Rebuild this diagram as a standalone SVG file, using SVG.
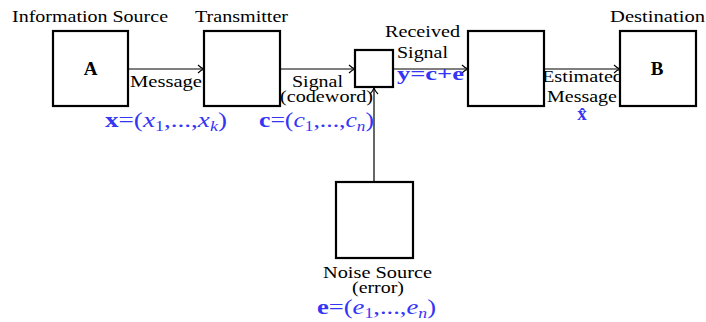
<svg xmlns="http://www.w3.org/2000/svg" width="706" height="322" viewBox="0 0 706 322">
<style>
.box{fill:#fff;stroke:#000;stroke-width:2.2}
.lbl{font-family:"Liberation Serif",serif;font-size:17px;fill:#000;text-anchor:middle}
.b{font-weight:bold}
.m{font-family:"Liberation Serif",serif;font-size:21px;fill:#3535f5}
.i{font-style:italic}
.s{font-size:14px}
.conn{stroke:#000;stroke-width:1.2;fill:none}
</style>
<defs>
<marker id="ah" markerWidth="10" markerHeight="10" refX="8" refY="5" orient="auto" markerUnits="userSpaceOnUse">
<path d="M2,1 Q5,4 8,5 Q5,6 2,9" fill="none" stroke="#000" stroke-width="1.1"/>
</marker>
</defs>
<rect width="706" height="322" fill="#fff"/>
<g id="connectors">
<line class="conn" x1="128" y1="69" x2="204" y2="69" marker-end="url(#ah)"/>
<line class="conn" x1="280" y1="69" x2="355" y2="69" marker-end="url(#ah)"/>
<line class="conn" x1="393" y1="69" x2="468" y2="69" marker-end="url(#ah)"/>
<line class="conn" x1="544" y1="69" x2="620" y2="69" marker-end="url(#ah)"/>
<line class="conn" x1="374" y1="182" x2="374" y2="88" marker-end="url(#ah)"/>
<text class="lbl" x="166" y="87" textLength="72" lengthAdjust="spacingAndGlyphs">Message</text>
<text class="lbl" x="317.5" y="87" textLength="51" lengthAdjust="spacingAndGlyphs">Signal</text>
<text class="lbl" x="326.5" y="102" textLength="93" lengthAdjust="spacingAndGlyphs">(codeword)</text>
<text class="lbl" x="422.5" y="37" textLength="75" lengthAdjust="spacingAndGlyphs">Received</text>
<text class="lbl" x="422.5" y="58" textLength="51" lengthAdjust="spacingAndGlyphs">Signal</text>
<text class="m b" x="397" y="80" textLength="67" lengthAdjust="spacingAndGlyphs" style="font-size:19px">y=c+e</text>
<text class="lbl" x="582.5" y="82" textLength="81" lengthAdjust="spacingAndGlyphs">Estimated</text>
<text class="lbl" x="582" y="102" textLength="70" lengthAdjust="spacingAndGlyphs">Message</text>
<text class="m b" x="582" y="120" text-anchor="middle" style="font-size:19px">x̂</text>
<text class="m" x="105" y="127" textLength="122" lengthAdjust="spacingAndGlyphs"><tspan class="b">x</tspan>=(<tspan class="i">x</tspan><tspan class="s" dy="4">1</tspan><tspan dy="-4">,...,</tspan><tspan class="i">x</tspan><tspan class="s i" dy="4">k</tspan><tspan dy="-4">)</tspan></text>
<text class="m" x="259" y="127" textLength="115" lengthAdjust="spacingAndGlyphs"><tspan class="b">c</tspan>=(<tspan class="i">c</tspan><tspan class="s" dy="4">1</tspan><tspan dy="-4">,...,</tspan><tspan class="i">c</tspan><tspan class="s i" dy="4">n</tspan><tspan dy="-4">)</tspan></text>
</g>
<g id="source">
<rect class="box" x="53" y="31" width="75" height="75"/>
<text class="lbl" x="90" y="22" textLength="156" lengthAdjust="spacingAndGlyphs">Information Source</text>
<text class="lbl b" x="90.5" y="75" style="font-size:19px">A</text>
</g>
<g id="transmitter">
<rect class="box" x="204" y="31" width="76" height="75"/>
<text class="lbl" x="241.5" y="22" textLength="93" lengthAdjust="spacingAndGlyphs">Transmitter</text>
</g>
<g id="channel">
<rect class="box" x="355" y="50" width="38" height="37"/>
</g>
<g id="receiver">
<rect class="box" x="468" y="31" width="76" height="75"/>
</g>
<g id="destination">
<rect class="box" x="620" y="31" width="76" height="75"/>
<text class="lbl" x="657.5" y="22" textLength="95" lengthAdjust="spacingAndGlyphs">Destination</text>
<text class="lbl b" x="657" y="75" style="font-size:19px">B</text>
</g>
<g id="noise">
<rect class="box" x="336" y="182" width="77" height="76"/>
<text class="lbl" x="377.5" y="278" textLength="109" lengthAdjust="spacingAndGlyphs">Noise Source</text>
<text class="lbl" x="378" y="293" textLength="52" lengthAdjust="spacingAndGlyphs">(error)</text>
<text class="m" x="317" y="314" textLength="119" lengthAdjust="spacingAndGlyphs"><tspan class="b">e</tspan>=(<tspan class="i">e</tspan><tspan class="s" dy="4">1</tspan><tspan dy="-4">,...,</tspan><tspan class="i">e</tspan><tspan class="s i" dy="4">n</tspan><tspan dy="-4">)</tspan></text>
</g>
</svg>
